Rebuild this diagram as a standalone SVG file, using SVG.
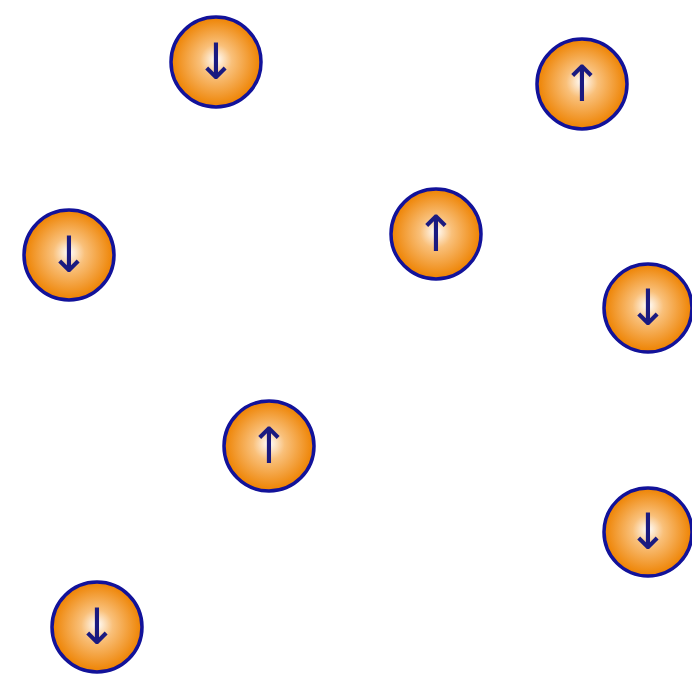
<svg xmlns="http://www.w3.org/2000/svg" width="692" height="675" viewBox="0 0 692 675">
<defs>
<radialGradient id="g" cx="0.5" cy="0.5" r="0.5" fx="0.5" fy="0.47">
<stop offset="0" stop-color="#ffffff"/>
<stop offset="0.35" stop-color="#f9c07a"/>
<stop offset="0.75" stop-color="#f29a30"/>
<stop offset="1" stop-color="#ee8200"/>
</radialGradient>
<style>
.b{fill:url(#g);stroke:#12129a;stroke-width:3.5}
.t{font-family:"DejaVu Sans",sans-serif;font-size:50px;fill:#1a1a80;text-anchor:middle;dominant-baseline:central}
</style>
</defs>
<rect width="692" height="675" fill="#fff"/>
<g id="n1"><circle class="b" cx="216" cy="62" r="45"/><text class="t" x="216" y="62">↓</text></g>
<g id="n2"><circle class="b" cx="582" cy="84" r="45"/><text class="t" x="582" y="84">↑</text></g>
<g id="n3"><circle class="b" cx="69" cy="255" r="45"/><text class="t" x="69" y="255">↓</text></g>
<g id="n4"><circle class="b" cx="436" cy="234" r="45"/><text class="t" x="436" y="234">↑</text></g>
<g id="n5"><circle class="b" cx="648" cy="308" r="44"/><text class="t" x="648" y="308">↓</text></g>
<g id="n6"><circle class="b" cx="269" cy="446" r="45"/><text class="t" x="269" y="446">↑</text></g>
<g id="n7"><circle class="b" cx="648" cy="532" r="44"/><text class="t" x="648" y="532">↓</text></g>
<g id="n8"><circle class="b" cx="97" cy="627" r="45"/><text class="t" x="97" y="627">↓</text></g>
<g id="connectors"/>
</svg>
